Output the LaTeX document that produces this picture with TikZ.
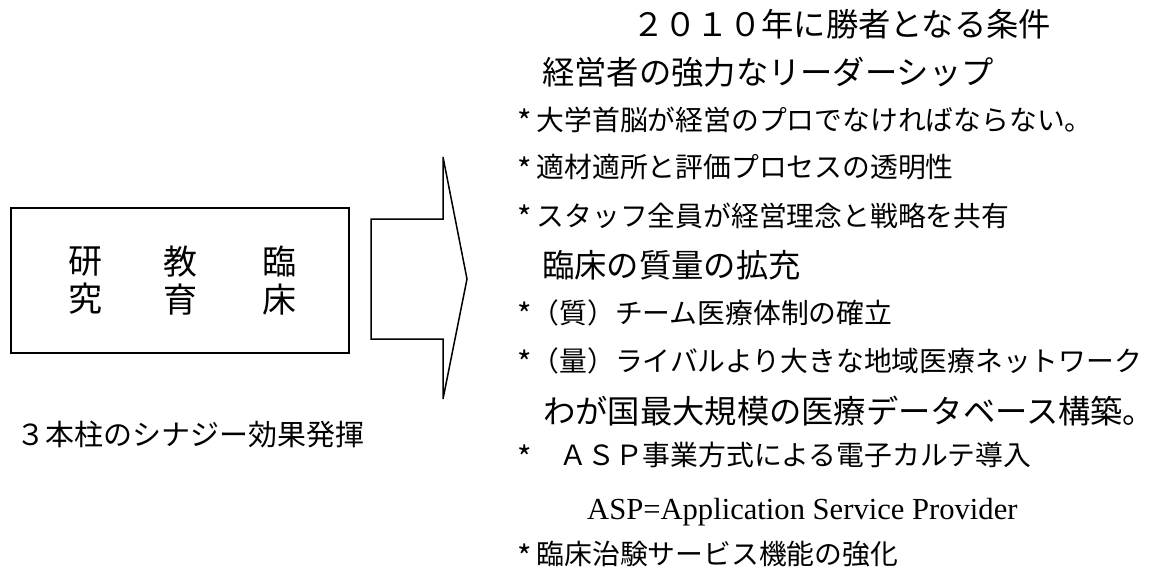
\documentclass[tikz,border=0pt]{standalone}
\usepackage{fontspec}
\setmainfont{Liberation Serif}
\newfontfamily\jp{Noto Sans CJK JP}
\newcommand{\bstar}{\raisebox{-3.5pt}{\fontsize{31}{31}\selectfont *}}
\newcommand{\bulletstar}{\bstar\hspace{5pt}}
\begin{document}
\begin{tikzpicture}[x=1pt,y=-1pt,
  outline/.style={draw=black,line width=1.5pt},
  pillar/.style={inner sep=0pt,align=center,font=\jp\fontsize{34}{38}\selectfont},
  head/.style={anchor=west,inner sep=0pt,font=\jp\fontsize{32.3}{32.3}\selectfont},
  body/.style={anchor=west,inner sep=0pt,font=\jp\fontsize{27.8}{27.8}\selectfont},
  latin/.style={anchor=base west,inner sep=0pt,font=\fontsize{30.6}{30.6}\selectfont},
  caption/.style={anchor=west,inner sep=0pt,font=\jp\fontsize{29}{29}\selectfont}]
\useasboundingbox (0,0) rectangle (1160,571);
% left box
\node[outline,minimum width=338pt,minimum height=145pt,inner sep=0pt] (box) at (180,280.5) {};
\node[pillar] (ken) at (85,281) {研\\究};
\node[pillar] (kyo) at (180,281) {教\\育};
\node[pillar] (rin) at (279,281) {臨\\床};
\node[caption] (synergy) at (16,435) {３本柱のシナジー効果発揮};
% arrow
\draw[outline,line join=miter] (371,219) -- (443,219) -- (443,157) -- (467,279) -- (443,399) -- (443,339) -- (371,339) -- cycle;
% right text
\node[head] (l1) at (632,24) {２０１０年に勝者となる条件};
\node[head] (l2) at (542,72) {経営者の強力なリーダーシップ};
\node[body] (l3) at (517,120) {\bulletstar 大学首脳が経営のプロでなければならない。};
\node[body] (l4) at (517,168) {\bulletstar 適材適所と評価プロセスの透明性};
\node[body] (l5) at (517,216) {\bulletstar スタッフ全員が経営理念と戦略を共有};
\node[head] (l6) at (542,265) {臨床の質量の拡充};
\node[body] (l7) at (517,313) {\bstar（質）チーム医療体制の確立};
\node[body] (l8) at (517,361) {\bstar（量）ライバルより大きな地域医療ネットワーク};
\node[head] (l9) at (543,411) {わが国最大規模の医療データベース構築。};
\node[body] (l10) at (517,456) {\bstar　ＡＳＰ事業方式による電子カルテ導入};
\node[latin] (l11) at (587,519) {ASP=Application Service Provider};
\node[body] (l12) at (517,555) {\bulletstar 臨床治験サービス機能の強化};
\end{tikzpicture}
\end{document}
